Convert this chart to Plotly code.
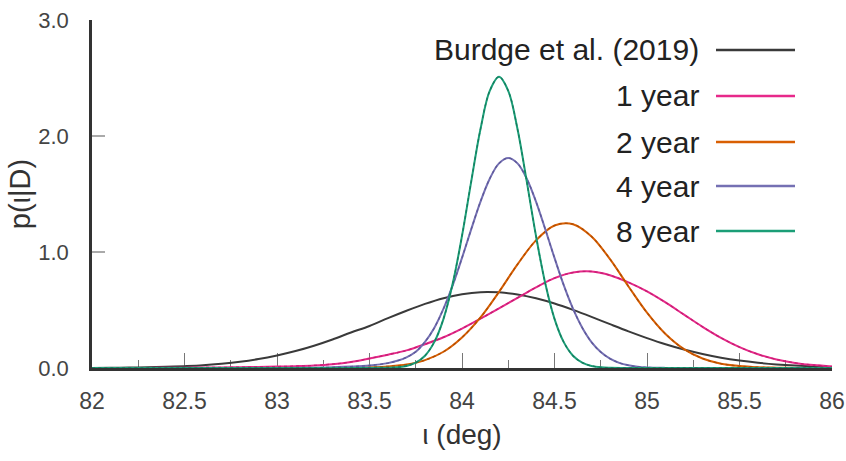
import plotly.graph_objects as go

# Posterior densities of the inclination angle, sampled on a coarse grid
x_wide = [82.0, 82.1, 82.2, 82.3, 82.4, 82.5, 82.6, 82.7, 82.8, 82.9,
          83.0, 83.1, 83.2, 83.3, 83.4, 83.5, 83.6, 83.7, 83.8, 83.9,
          84.0, 84.1, 84.2, 84.3, 84.4, 84.5, 84.6, 84.7, 84.8, 84.9,
          85.0, 85.1, 85.2, 85.3, 85.4, 85.5, 85.6, 85.7, 85.8, 85.9, 86.0]

burdge = [0.001, 0.002, 0.004, 0.006, 0.010, 0.016, 0.024, 0.037, 0.054, 0.077,
          0.108, 0.146, 0.192, 0.246, 0.306, 0.362, 0.430, 0.494, 0.553, 0.602,
          0.636, 0.654, 0.652, 0.634, 0.601, 0.556, 0.501, 0.441, 0.378, 0.316,
          0.258, 0.205, 0.159, 0.121, 0.089, 0.064, 0.045, 0.031, 0.021, 0.014, 0.008]

year1 = [0.000, 0.000, 0.001, 0.001, 0.002, 0.003, 0.004, 0.005, 0.007, 0.009,
         0.012, 0.016, 0.022, 0.033, 0.052, 0.082, 0.115, 0.152, 0.205, 0.265,
         0.340, 0.425, 0.515, 0.605, 0.695, 0.775, 0.823, 0.832, 0.800, 0.738,
         0.660, 0.565, 0.460, 0.355, 0.260, 0.180, 0.118, 0.074, 0.044, 0.025, 0.014]

year2 = [0.000, 0.000, 0.000, 0.000, 0.000, 0.000, 0.000, 0.000, 0.000, 0.000,
         0.000, 0.000, 0.000, 0.001, 0.002, 0.006, 0.014, 0.030, 0.068, 0.140,
         0.263, 0.436, 0.656, 0.893, 1.100, 1.228, 1.240, 1.134, 0.938, 0.703,
         0.477, 0.293, 0.163, 0.082, 0.037, 0.017, 0.007, 0.003, 0.001, 0.000, 0.000]

# Narrower posteriors need a finer grid around the peak
x_year4 = [82.0, 82.5, 83.0, 83.2, 83.3, 83.4, 83.5, 83.6, 83.65, 83.7, 83.75,
           83.8, 83.85, 83.9, 83.95, 84.0, 84.05, 84.1, 84.15, 84.2, 84.25,
           84.3, 84.35, 84.4, 84.45, 84.5, 84.55, 84.6, 84.65, 84.7, 84.75,
           84.8, 84.85, 84.9, 84.95, 85.0, 85.1, 85.2, 85.5, 86.0]
year4 = [0.000, 0.000, 0.001, 0.003, 0.006, 0.012, 0.022, 0.042, 0.062, 0.092, 0.140,
         0.225, 0.345, 0.511, 0.714, 0.949, 1.197, 1.435, 1.632, 1.764, 1.810,
         1.764, 1.632, 1.435, 1.197, 0.949, 0.714, 0.511, 0.347, 0.223, 0.137,
         0.080, 0.044, 0.023, 0.011, 0.005, 0.001, 0.000, 0.000, 0.000]

x_year8 = [82.0, 83.0, 83.4, 83.5, 83.6, 83.65, 83.7, 83.75, 83.8, 83.85,
           83.9, 83.95, 84.0, 84.05, 84.1, 84.15, 84.2, 84.25, 84.3, 84.35,
           84.4, 84.45, 84.5, 84.55, 84.6, 84.65, 84.7, 84.75, 84.8, 84.9,
           85.0, 85.5, 86.0]
year8 = [0.000, 0.000, 0.000, 0.001, 0.002, 0.006, 0.018, 0.046, 0.106, 0.223,
         0.424, 0.730, 1.139, 1.609, 2.060, 2.389, 2.510, 2.389, 2.060, 1.609,
         1.139, 0.730, 0.424, 0.223, 0.106, 0.046, 0.018, 0.006, 0.002, 0.000,
         0.000, 0.000, 0.000]

names = ["Burdge et al. (2019)", "1 year", "2 year", "4 year", "8 year"]
colors = ["#3a3a3a", "#e7298a", "#d95f02", "#7570b3", "#1b9e77"]
dash_colors = [None, "#c41f72", "#b04d02", "#5d5899", "#157d5f"]

x_ticks = [82, 82.5, 83, 83.5, 84, 84.5, 85, 85.5, 86]
x_tick_text = ["82", "82.5", "83", "83.5", "84", "84.5", "85", "85.5", "86"]
y_ticks = [0, 1, 2, 3]
y_tick_text = ["0.0", "1.0", "2.0", "3.0"]

series = [(x_wide, burdge), (x_wide, year1), (x_wide, year2),
          (x_year4, year4), (x_year8, year8)]

FONT = "Liberation Sans, Arial, sans-serif"

fig = go.Figure()
for (xs, ys), name, col, dcol in zip(series, names, colors, dash_colors):
    fig.add_trace(go.Scatter(
        x=xs, y=ys, mode="lines", name=name,
        line=dict(color=col, width=2, shape="spline", smoothing=1.0),
        showlegend=False, hoverinfo="skip"))
    if dcol is not None:
        # sample-based estimate drawn over the analytic curve
        fig.add_trace(go.Scatter(
            x=xs, y=ys, mode="lines", name=name + " (samples)",
            line=dict(color=dcol, width=1.3, dash="3px,3px",
                      shape="spline", smoothing=1.0),
            showlegend=False, hoverinfo="skip"))

# Key: labels right-aligned, sample line to their right
L, R, T, B = 92, 14, 20, 93
W, H = 846, 461
pw, ph = W - L - R, H - T - B
row_y = [50, 96, 142, 186, 231]
for name, col, py in zip(names, colors, row_y):
    yp = (H - B - py) / ph
    fig.add_annotation(
        x=(701 - L) / pw, y=yp, xref="paper", yref="paper",
        text=name, showarrow=False, xanchor="right", yanchor="middle",
        font=dict(family=FONT, size=30, color="#222222"))
    fig.add_shape(
        type="line", xref="paper", yref="paper",
        x0=(716 - L) / pw, x1=(795 - L) / pw, y0=yp, y1=yp,
        line=dict(color=col, width=2.5))

fig.update_layout(
    width=W, height=H,
    margin=dict(l=L, r=R, t=T, b=B, pad=0, autoexpand=False),
    paper_bgcolor="white", plot_bgcolor="white",
    font=dict(family=FONT, color="#444444"),
    xaxis=dict(
        range=[82, 86], tickmode="array", tickvals=x_ticks, ticktext=x_tick_text,
        ticks="inside", ticklen=15, tickwidth=1.2, tickcolor="#777777",
        minor=dict(dtick=0.25, tick0=82, ticks="inside", ticklen=8,
                   tickwidth=1.2, tickcolor="#777777", showgrid=False),
        showline=True, linecolor="#333333", linewidth=2.5, mirror=False,
        showgrid=False, zeroline=False, layer="below traces", automargin=False,
        tickfont=dict(family=FONT, size=23, color="#444444"),
        ticklabelstandoff=11,
        title=dict(text="ι (deg)", standoff=12,
                   font=dict(family=FONT, size=28, color="#333333"))),
    yaxis=dict(
        range=[0, 3], tickmode="array", tickvals=y_ticks, ticktext=y_tick_text,
        ticks="inside", ticklen=13, tickwidth=1.5, tickcolor="#aaaaaa",
        showline=True, linecolor="#333333", linewidth=2.5, mirror=False,
        showgrid=False, zeroline=False, layer="below traces", automargin=False,
        tickfont=dict(family=FONT, size=22, color="#444444"),
        ticklabelstandoff=16,
        title=dict(text="p(ι|D)", standoff=0,
                   font=dict(family=FONT, size=29, color="#333333"))),
)

fig.write_html("out.html")
